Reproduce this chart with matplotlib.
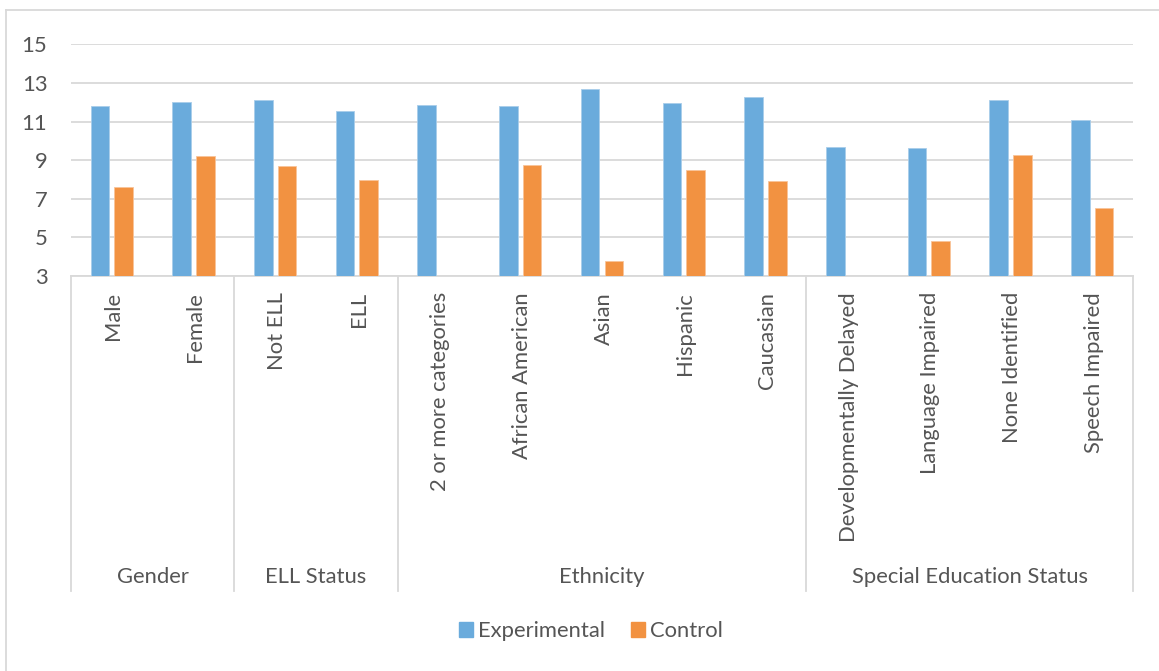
import numpy as np
import matplotlib.pyplot as plt
from matplotlib.lines import Line2D
from matplotlib.patches import Patch
from matplotlib.transforms import blended_transform_factory

plt.rcParams['font.family'] = ['Lato', 'DejaVu Sans']

# category labels and their grouping
categories = ['Male', 'Female', 'Not ELL', 'ELL', '2 or more categories',
              'African American', 'Asian', 'Hispanic', 'Caucasian',
              'Developmentally Delayed', 'Language Impaired', 'None Identified',
              'Speech Impaired']
groups = ['Gender', 'ELL Status', 'Ethnicity', 'Special Education Status']
group_sizes = [2, 2, 5, 4]

# mean scores
experimental = [11.81, 12.02, 12.12, 11.55, 11.88, 11.79, 12.70, 11.96, 12.26,
                9.67, 9.63, 12.12, 11.08]
control = [7.61, 9.23, 8.70, 7.96, np.nan, 8.77, 3.78, 8.51, 7.94,
           np.nan, 4.81, 9.27, 6.54]

blue = '#6aabdc'
orange = '#f29241'
grid_col = '#d9d9d9'
text_col = '#555555'
fs = 15.8

W, H = 1159, 671
fig = plt.figure(figsize=(W / 100, H / 100), dpi=100)
ax = fig.add_axes([71 / W, 1 - 276 / H, (1133 - 71) / W, (276 - 44.3) / H])

x = np.arange(len(categories))
off, bw = 0.145, 0.228
ax.bar(x - off, experimental, bw, bottom=0, color=blue, edgecolor='#a9cdea',
       linewidth=0.6, zorder=3)
ax.bar(x + off, control, bw, bottom=0, color=orange, edgecolor='#f8c49a',
       linewidth=0.6, zorder=3)

ax.set_xlim(-0.5, len(categories) - 0.5)
ax.set_ylim(3, 15)
ax.set_yticks(range(3, 16, 2))
ax.yaxis.grid(True, color=grid_col, linewidth=1.3, zorder=0)
ax.tick_params(axis='y', length=0, pad=17, labelsize=fs, labelcolor=text_col)
ax.set_xticks([])
for s in ['top', 'right', 'left']:
    ax.spines[s].set_visible(False)
ax.spines['bottom'].set_color(grid_col)
ax.spines['bottom'].set_linewidth(1.3)

tr = blended_transform_factory(ax.transData, ax.transAxes)
ax_h = 276 - 44.3

# rotated category labels under the axis
for xi, lab in zip(x, categories):
    ax.text(xi + 0.02, -16 / ax_h, lab, transform=tr, rotation=90, ha='center',
            va='top', fontsize=fs, color=text_col)

# group labels and separators
bounds = np.concatenate([[0], np.cumsum(group_sizes)]) - 0.5
line_bottom = -(591 - 276) / ax_h
for b in bounds:
    ax.add_line(Line2D([b, b], [0, line_bottom], transform=tr, color=grid_col,
                       linewidth=1.3, clip_on=False))
for g, lo, hi in zip(groups, bounds[:-1], bounds[1:]):
    ax.text((lo + hi) / 2, -(577 - 276) / ax_h, g, transform=tr, ha='center',
            va='center', fontsize=fs, color=text_col)

# chart border (top and left edges)
fig.add_artist(Line2D([6 / W, 1], [1 - 10 / H, 1 - 10 / H], color=grid_col,
                      linewidth=1.3))
fig.add_artist(Line2D([6 / W, 6 / W], [0, 1 - 10 / H], color=grid_col,
                      linewidth=1.3))

handles = [Patch(color=blue, label='Experimental'),
           Patch(color=orange, label='Control')]
fig.legend(handles=handles, loc='center', bbox_to_anchor=(591 / W, 1 - 631 / H),
           ncol=2, frameon=False, fontsize=fs, labelcolor=text_col,
           handlelength=0.64, handleheight=0.64, handletextpad=0.25,
           columnspacing=1.15)

fig.savefig('out.png', dpi=100)
